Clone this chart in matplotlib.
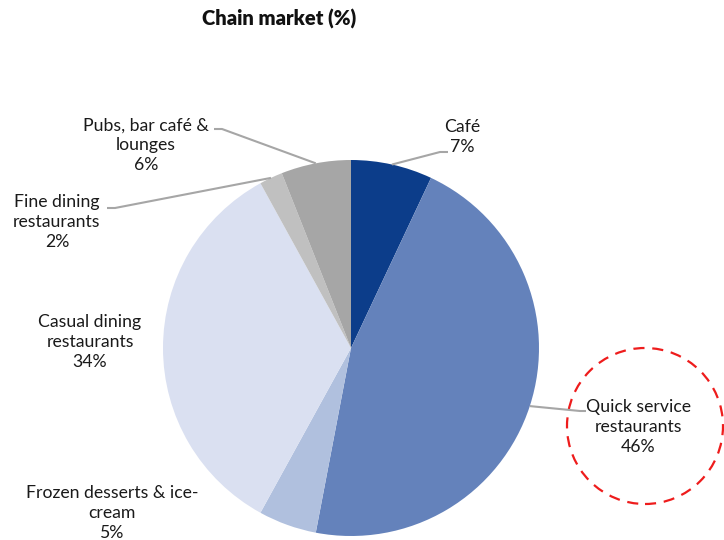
import numpy as np
import matplotlib.pyplot as plt
from matplotlib.patches import Circle

plt.rcParams['font.family'] = ['Lato', 'DejaVu Sans']

# chain market shares, clockwise from 12 o'clock
segments = ['Café', 'Quick service\nrestaurants', 'Frozen desserts & ice-\ncream',
            'Casual dining\nrestaurants', 'Fine dining\nrestaurants',
            'Pubs, bar café &\nlounges']
shares = [7, 46, 5, 34, 2, 6]
colors = ['#0c3d8a', '#6482bb', '#b0c0de', '#dae0f1', '#c0c0c0', '#a6a6a6']

# label centres and leader line elbows (pixel coords, y down)
label_pos = [(462, 137), (638, 427), (112, 513), (90, 342), (57, 222), (146, 145)]
elbows = [[(440, 152), (448, 152)], [(580, 411), (586, 411)], None, None,
          [(115, 208), (107, 208)], [(222, 129), (214, 129)]]

W, H = 724, 540
cx, cy, r = 351, 348, 188

fig = plt.figure(figsize=(W / 100, H / 100), dpi=100)
ax = fig.add_axes([0, 0, 1, 1])
ax.set_xlim(0, W)
ax.set_ylim(0, H)
ax.set_aspect('equal')
ax.axis('off')

wedges, _ = ax.pie(shares, colors=colors, startangle=90, counterclock=False,
                   center=(cx, H - cy), radius=r,
                   wedgeprops=dict(linewidth=0))
ax.set_xlim(0, W)
ax.set_ylim(0, H)

for w, name, val, (lx, ly), elb in zip(wedges, segments, shares, label_pos, elbows):
    ax.text(lx, H - ly, f'{name}\n{val}%', ha='center', va='center',
            fontsize=12.7, linespacing=1.27, color='#1a1a1a')
    if elb is None:
        continue
    mid = np.deg2rad((w.theta1 + w.theta2) / 2)
    ax_x = cx + r * np.cos(mid)
    ax_y = (H - cy) + r * np.sin(mid)
    xs = [ax_x] + [p[0] for p in elb]
    ys = [ax_y] + [H - p[1] for p in elb]
    ax.plot(xs, ys, color='#a6a6a6', lw=1.5, solid_capstyle='butt')

ax.add_patch(Circle((645, H - 426), 78, fill=False, edgecolor='#ee1c1c',
                    lw=1.6, linestyle=(0, (5, 3.5))))

ax.text(279, H - 19, 'Chain market (%)', ha='center', va='center',
        fontsize=14.5, fontweight='heavy', color='#111111')

fig.savefig('out.png', dpi=100)
